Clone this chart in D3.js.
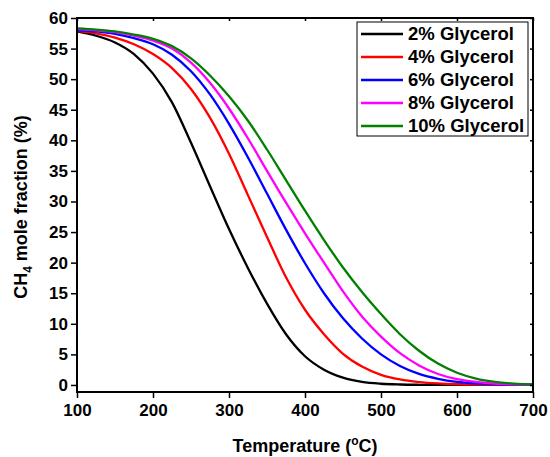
<!DOCTYPE html>
<html lang="en">
<head>
<meta charset="utf-8">
<title>CH4 mole fraction vs temperature</title>
<style type="text/css">
  body { margin: 0; background: #fff; }
  text { font-family: Arial, "Liberation Sans", sans-serif; font-weight: bold; }
  .curve { fill: none; stroke-width: 2.3px; }
</style>
</head>
<body>
<svg width="550" height="457"></svg>
<script src="https://d3js.org/d3.v7.min.js"></script>
<script>

var temps = [100,125,150,175,200,225,250,275,300,325,350,375,400,425,450,475,500,525,550,575,600,625,650,675,700];

var glycerol2  = [57.8,57.1,56.0,54.1,50.9,46.2,39.6,32.5,25.5,19.1,13.3,8.3,4.7,2.5,1.2,0.5,0.2,0.08,0.03,0.01,0,0,0,0,0];
var glycerol4  = [57.9,57.5,56.8,55.7,54.1,51.8,48.4,43.7,37.8,31.0,24.2,17.6,12.3,8.3,5.1,3.0,1.65,0.9,0.48,0.25,0.12,0.06,0.03,0.01,0];
var glycerol6  = [58.0,57.8,57.4,56.7,55.7,54.0,51.3,47.5,42.7,37.2,31.3,25.4,19.9,15.0,10.9,7.6,5.0,3.1,1.8,1.0,0.5,0.25,0.12,0.05,0.02];
var glycerol8  = [58.2,58.0,57.7,57.1,56.3,55.0,52.7,49.4,45.2,40.3,35.0,29.8,24.8,20.0,15.3,11.2,7.9,5.2,3.2,1.8,0.95,0.5,0.22,0.09,0.04];
var glycerol10 = [58.3,58.1,57.8,57.3,56.6,55.4,53.4,50.6,47.2,43.2,38.5,33.5,28.5,23.7,19.2,15.2,11.6,8.3,5.6,3.5,2.0,1.05,0.5,0.22,0.1];

var seriesNames = ["2% Glycerol","4% Glycerol","6% Glycerol","8% Glycerol","10% Glycerol"];
var seriesColors = ["#000000","#ff0000","#0000ff","#ff00ff","#008000"];
var seriesValues = [glycerol2, glycerol4, glycerol6, glycerol8, glycerol10];

var xTicks = [100,200,300,400,500,600,700];
var yTicks = [0,5,10,15,20,25,30,35,40,45,50,55,60];

var svg = d3.select("svg");

var mLeft = 77, mRight = 533, mTop = 18, mBottom = 392;

var x = d3.scaleLinear().domain([100, 700]).range([mLeft, mRight]);
var y = d3.scaleLinear().domain([-1.15, 60]).range([mBottom, mTop]);

// curves
var line = d3.line()
    .curve(d3.curveMonotoneX)
    .x(function(d) { return x(d[0]); })
    .y(function(d) { return y(d[1]); });

var series = seriesValues.map(function(vals, i) {
  return { name: seriesNames[i], color: seriesColors[i],
           points: temps.map(function(t, j) { return [t, vals[j]]; }) };
});

svg.append("g")
  .selectAll("path")
  .data(series)
  .enter().append("path")
    .attr("class", "curve")
    .attr("stroke", function(d) { return d.color; })
    .attr("d", function(d) { return line(d.points); });

// axes
svg.append("g")
    .attr("transform", "translate(0," + mBottom + ")")
    .call(d3.axisBottom(x).tickValues(xTicks).tickSize(6).tickPadding(6).tickFormat(d3.format("d")));

svg.append("g")
    .attr("transform", "translate(" + mLeft + ",0)")
    .call(d3.axisLeft(y).tickValues(yTicks).tickSize(6).tickPadding(3).tickFormat(d3.format("d")));

svg.append("g")
    .attr("transform", "translate(0," + mTop + ")")
    .call(d3.axisBottom(x).tickValues(xTicks).tickSize(3).tickFormat(""));

svg.append("g")
    .attr("transform", "translate(" + mRight + ",0)")
    .call(d3.axisRight(y).tickValues(yTicks).tickSize(-3).tickFormat(""));

svg.selectAll(".domain").remove();
svg.selectAll(".tick line").attr("stroke", "#000").attr("stroke-width", 1.5);
svg.selectAll(".tick text").attr("fill", "#000").style("font-size", "17px");

// frame
svg.append("rect")
    .attr("x", mLeft).attr("y", mTop)
    .attr("width", mRight - mLeft).attr("height", mBottom - mTop)
    .attr("fill", "none").attr("stroke", "#000").attr("stroke-width", 2);

// axis titles
var xt = svg.append("text")
    .attr("x", (mLeft + mRight) / 2).attr("y", 452)
    .attr("text-anchor", "middle")
    .style("font-size", "18px");
xt.append("tspan").text("Temperature (");
xt.append("tspan").attr("dy", -7).style("font-size", "12px").text("o");
xt.append("tspan").attr("dy", 7).text("C)");

var yt = svg.append("text")
    .attr("transform", "translate(27," + ((mTop + mBottom) / 2 + 2) + ") rotate(-90)")
    .attr("text-anchor", "middle")
    .style("font-size", "18px");
yt.append("tspan").text("CH");
yt.append("tspan").attr("dy", 5).style("font-size", "12px").text("4");
yt.append("tspan").attr("dy", -5).text(" mole fraction (%)");

// legend
var legend = svg.append("g");
legend.append("rect")
    .attr("x", 357).attr("y", 22)
    .attr("width", 171).attr("height", 114)
    .attr("fill", "#fff").attr("stroke", "#000").attr("stroke-width", 1);

var item = legend.selectAll(".item")
    .data(series)
  .enter().append("g")
    .attr("transform", function(d, i) { return "translate(0," + (34 + i * 23) + ")"; });

item.append("line")
    .attr("x1", 361).attr("x2", 403)
    .attr("stroke", function(d) { return d.color; })
    .attr("stroke-width", 2.3);

item.append("text")
    .attr("x", 408).attr("dy", "0.35em")
    .style("font-size", "18.5px")
    .text(function(d) { return d.name; });

</script>
</body>
</html>
